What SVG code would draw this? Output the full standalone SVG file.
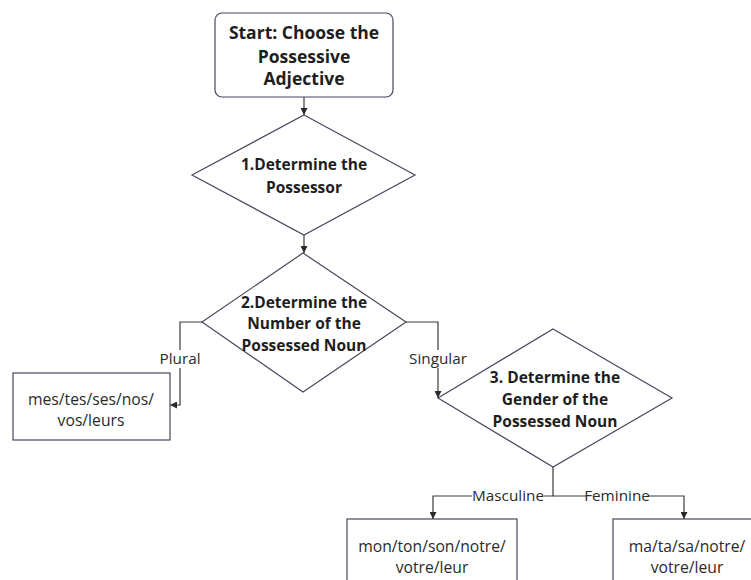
<svg xmlns="http://www.w3.org/2000/svg" width="751" height="580" viewBox="0 0 751 580">
<style>
.shape{fill:#fff;stroke:#454a5e;stroke-width:1.2}
.line{fill:none;stroke:#3a3a3a;stroke-width:1.2}
.b{font-family:"Open Sans","Noto Sans",sans-serif;font-weight:bold;font-size:15.5px;fill:#1e1e1e;text-anchor:middle}
.s{font-size:17.5px}
.t{font-family:"Open Sans","Noto Sans",sans-serif;font-size:15.7px;fill:#2a2a2a;text-anchor:middle}
.lbl{font-family:"Open Sans","Noto Sans",sans-serif;font-size:15.3px;fill:#2a2a2a;text-anchor:middle}
</style>
<defs>
<marker id="ah" viewBox="0 0 10 10" refX="10" refY="5" markerWidth="7" markerHeight="7" markerUnits="userSpaceOnUse" orient="auto">
<path d="M0,0 L10,5 L0,10 z" fill="#2a2a2a"/>
</marker>
</defs>
<rect width="751" height="580" fill="#fff"/>
<g id="connectors">
<line class="line" x1="304" y1="97" x2="304" y2="115" marker-end="url(#ah)"/>
<line class="line" x1="304" y1="235" x2="304" y2="253" marker-end="url(#ah)"/>
<polyline class="line" points="202,322 180,322 180,405 170,405" marker-end="url(#ah)"/>
<polyline class="line" points="406,322 438,322 438,398" marker-end="url(#ah)"/>
<polyline class="line" points="553,467 553,496 433,496 433,519" marker-end="url(#ah)"/>
<polyline class="line" points="553,496 684,496 684,519" marker-end="url(#ah)"/>
<rect x="159" y="350" width="42" height="18" fill="#fff"/>
<text class="lbl" x="180" y="364">Plural</text>
<rect x="406" y="350" width="64" height="18" fill="#fff"/>
<text class="lbl" x="438" y="364">Singular</text>
<rect x="472" y="488" width="72" height="16" fill="#fff"/>
<text class="lbl" x="508" y="501">Masculine</text>
<rect x="586" y="488" width="62" height="16" fill="#fff"/>
<text class="lbl" x="617" y="501">Feminine</text>
</g>
<g id="start">
<rect class="shape" x="215" y="13" width="178" height="84" rx="7"/>
<text class="b s" x="304" y="39">Start: Choose the</text>
<text class="b s" x="304" y="63">Possessive</text>
<text class="b s" x="304" y="85">Adjective</text>
</g>
<g id="possessor">
<polygon class="shape" points="304,115 415,175 304,235 192,175"/>
<text class="b" x="304" y="170">1.Determine the</text>
<text class="b" x="304" y="193">Possessor</text>
</g>
<g id="number">
<polygon class="shape" points="303,253 406,322 303,392 202,322"/>
<text class="b" x="304" y="308">2.Determine the</text>
<text class="b" x="304" y="329">Number of the</text>
<text class="b" x="304" y="351">Possessed Noun</text>
</g>
<g id="gender">
<polygon class="shape" points="553,329 672,398 553,467 438,398"/>
<text class="b" x="555" y="383">3. Determine the</text>
<text class="b" x="555" y="405">Gender of the</text>
<text class="b" x="555" y="427">Possessed Noun</text>
</g>
<g id="plural">
<rect class="shape" x="13" y="373" width="157" height="67"/>
<text class="t" x="91" y="405">mes/tes/ses/nos/</text>
<text class="t" x="91" y="426">vos/leurs</text>
</g>
<g id="masculine">
<rect class="shape" x="347" y="519" width="170" height="70"/>
<text class="t" x="432" y="552">mon/ton/son/notre/</text>
<text class="t" x="432" y="573">votre/leur</text>
</g>
<g id="feminine">
<rect class="shape" x="613" y="519" width="148" height="70"/>
<text class="t" x="687" y="552">ma/ta/sa/notre/</text>
<text class="t" x="687" y="573">votre/leur</text>
</g>
</svg>
